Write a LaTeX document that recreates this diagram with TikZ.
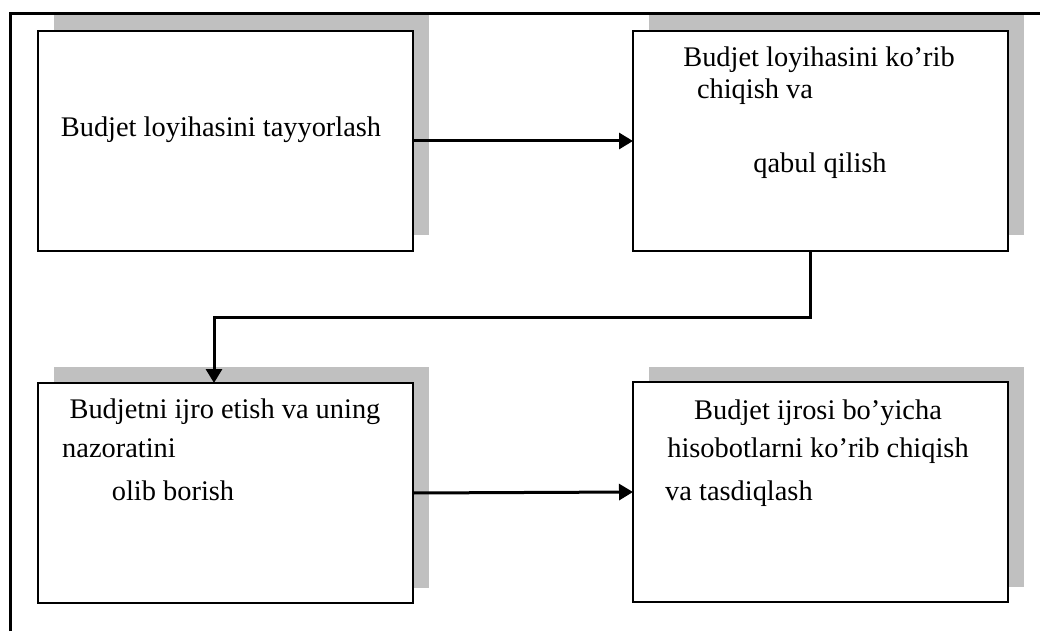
\documentclass[tikz,border=0pt]{standalone}
\usepackage{fontspec}
\setmainfont{Liberation Serif}
\usetikzlibrary{arrows.meta}
\definecolor{shadegray}{RGB}{192,192,192}

\begin{document}
\begin{tikzpicture}[x=1pt,y=-1pt,
  stagebox/.style={draw=black, line width=2.6pt, fill=white, minimum width=375pt,
    minimum height=220pt, inner sep=0pt, outer sep=0pt, anchor=north west},
  backshade/.style={fill=shadegray, draw=none},
  link/.style={line width=3pt, -{Triangle[length=14pt,width=16pt]}},
  txt/.style={font=\fontsize{28.4}{31}\selectfont, anchor=base, inner sep=0pt},
  txtl/.style={txt, anchor=base west}
]
\useasboundingbox (0,0) rectangle (1040,631);

% grey backing plates, offset up and to the right
\fill[backshade] (54,15) rectangle (429,235);
\fill[backshade] (649,15) rectangle (1024,235);
\fill[backshade] (54,367) rectangle (429,588);
\fill[backshade] (649,367) rectangle (1024,587);

% outer frame (top and left edges)
\draw[line width=3pt] (10,631) -- (10,14) -- (1040,14);

% the four stages
\node[stagebox] (prep)   at (38,31)  {};
\node[stagebox] (review) at (633,31) {};
\node[stagebox] (exec)   at (38,383) {};
\node[stagebox] (report) at (633,382) {};

% labels
\node[txt] (t1) at (221,137) {Budjet loyihasini tayyorlash};

\node[txt] (t2a) at (819,67)  {Budjet loyihasini ko’rib};
\node[txt] (t2b) at (755,99)  {chiqish va};
\node[txt] (t2c) at (820,172) {qabul qilish};

\node[txt]  (t3a) at (225,418) {Budjetni ijro etish va uning};
\node[txtl] (t3b) at (62,457)  {nazoratini};
\node[txt]  (t3c) at (173,500) {olib borish};

\node[txt]  (t4a) at (818,419) {Budjet ijrosi bo’yicha};
\node[txt]  (t4b) at (818,457) {hisobotlarni ko’rib chiqish};
\node[txtl] (t4c) at (665,500) {va tasdiqlash};

% connectors
\coordinate (bend) at (810,317);
\draw[link] (prep.east) -- (review.west);
\draw[link] (review.south -| bend) -- (bend) -| ([xshift=-11.5pt]exec.north);
\draw[link] (exec.east) -- (report.west);
\end{tikzpicture}
\end{document}
